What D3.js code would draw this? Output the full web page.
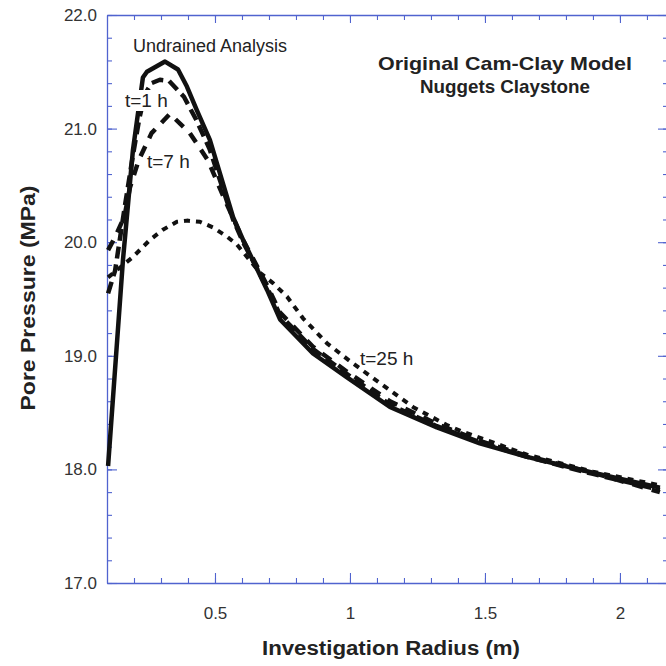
<!DOCTYPE html>
<html>
<head>
<meta charset="utf-8">
<script src="https://cdn.jsdelivr.net/npm/d3@7"></script>
<style>
body { margin: 0; background: #fff; }
svg { display: block; font-family: 'Liberation Sans', Arial, sans-serif; }
</style>
</head>
<body>
<svg id="svg1" width="666" height="666"></svg>
<script>
// values (radius in m, pore pressure in MPa)
var undrainedR = [0.104, 0.159, 0.196, 0.233, 0.248, 0.315, 0.363, 0.396, 0.433, 0.481, 0.567, 0.604, 0.693, 0.741, 0.863, 0.989, 1.148, 1.322, 1.481, 1.656, 1.9, 2.148];
var undrainedP = [18.03, 19.84, 20.81, 21.45, 21.50, 21.59, 21.52, 21.37, 21.16, 20.90, 20.22, 20.02, 19.58, 19.32, 19.02, 18.81, 18.55, 18.37, 18.23, 18.11, 17.97, 17.84];

var t1R = [0.104, 0.13, 0.165, 0.195, 0.219, 0.24, 0.265, 0.296, 0.33, 0.385, 0.43, 0.48, 0.567, 0.604, 0.693, 0.741, 0.863, 0.989, 1.148, 1.322, 1.481, 1.656, 1.9, 2.148];
var t1P = [19.55, 19.75, 20.3, 20.75, 21.08, 21.3, 21.4, 21.43, 21.42, 21.28, 21.08, 20.82, 20.2, 20.0, 19.6, 19.36, 19.06, 18.84, 18.57, 18.38, 18.24, 18.11, 17.96, 17.82];

var t7R = [0.104, 0.131, 0.165, 0.185, 0.217, 0.265, 0.333, 0.407, 0.474, 0.537, 0.604, 0.693, 0.741, 0.863, 0.989, 1.148, 1.322, 1.481, 1.656, 1.9, 2.148];
var t7P = [19.93, 20.05, 20.23, 20.48, 20.72, 20.96, 21.13, 20.96, 20.72, 20.37, 20.02, 19.62, 19.38, 19.08, 18.86, 18.6, 18.4, 18.25, 18.12, 17.97, 17.8];

var t25R = [0.104, 0.196, 0.259, 0.307, 0.359, 0.396, 0.444, 0.493, 0.544, 0.581, 0.619, 0.667, 0.715, 0.767, 0.826, 0.915, 1.007, 1.111, 1.233, 1.359, 1.419, 1.656, 1.9, 2.148];
var t25P = [19.69, 19.87, 20.02, 20.11, 20.18, 20.19, 20.18, 20.13, 20.05, 19.98, 19.87, 19.73, 19.64, 19.52, 19.33, 19.11, 18.94, 18.76, 18.55, 18.39, 18.33, 18.13, 17.98, 17.86];

var xMajor = [0.5, 1, 1.5, 2];
var xTickLabels = ['0.5', '1', '1.5', '2'];
var yMajor = [17, 18, 19, 20, 21, 22];
var yTickLabels = ['17.0', '18.0', '19.0', '20.0', '21.0', '22.0'];

var plotLeft = 107;
var plotRight = 668;
var plotTop = 15;
var plotBottom = 583;
var axisColor = '#5063cf';

var svg = d3.select('svg');

var x = d3.scaleLinear().domain([0.1, 2.178]).range([plotLeft, plotRight]);
var y = d3.scaleLinear().domain([17, 22]).range([plotBottom, plotTop]);

var xMinor = d3.range(2, 22).map(function (i) { return i / 10; });
var yMinor = d3.range(85, 111).map(function (i) { return i / 5; });

function styleAxis(g) {
    g.attr('color', axisColor);
    g.select('.domain').attr('stroke-width', 1.3);
    g.selectAll('.tick line').attr('stroke-width', 1.1);
    g.selectAll('.tick text')
        .attr('fill', '#333')
        .attr('font-size', 17);
}

// bottom axis
svg.append('g')
    .attr('transform', 'translate(0,' + plotBottom + ')')
    .call(d3.axisBottom(x).tickValues(xMajor)
        .tickFormat(function (d, i) { return xTickLabels[i]; })
        .tickSizeInner(-10).tickSizeOuter(0).tickPadding(24))
    .call(styleAxis);
svg.append('g')
    .attr('transform', 'translate(0,' + plotBottom + ')')
    .call(d3.axisBottom(x).tickValues(xMinor).tickFormat('').tickSizeInner(-5).tickSizeOuter(0))
    .call(styleAxis)
    .select('.domain').remove();

// top axis
svg.append('g')
    .attr('transform', 'translate(0,' + plotTop + ')')
    .call(d3.axisTop(x).tickValues(xMajor).tickFormat('').tickSizeInner(-8).tickSizeOuter(0))
    .call(styleAxis);
svg.append('g')
    .attr('transform', 'translate(0,' + plotTop + ')')
    .call(d3.axisTop(x).tickValues(xMinor).tickFormat('').tickSizeInner(-5).tickSizeOuter(0))
    .call(styleAxis)
    .select('.domain').remove();

// left axis
svg.append('g')
    .attr('transform', 'translate(' + plotLeft + ',0)')
    .call(d3.axisLeft(y).tickValues(yMajor)
        .tickFormat(function (d, i) { return yTickLabels[i]; })
        .tickSizeInner(-10).tickSizeOuter(0).tickPadding(10))
    .call(styleAxis);
svg.append('g')
    .attr('transform', 'translate(' + plotLeft + ',0)')
    .call(d3.axisLeft(y).tickValues(yMinor).tickFormat('').tickSizeInner(-5).tickSizeOuter(0))
    .call(styleAxis)
    .select('.domain').remove();

// right axis (mostly off the edge of the page)
svg.append('g')
    .attr('transform', 'translate(' + plotRight + ',0)')
    .call(d3.axisRight(y).tickValues(yMajor).tickFormat('').tickSizeInner(-10).tickSizeOuter(0))
    .call(styleAxis);
svg.append('g')
    .attr('transform', 'translate(' + plotRight + ',0)')
    .call(d3.axisRight(y).tickValues(yMinor).tickFormat('').tickSizeInner(-5).tickSizeOuter(0))
    .call(styleAxis)
    .select('.domain').remove();

//line generator
var line = d3.line()
    .x(function (d) { return x(d[0]); })
    .y(function (d) { return y(d[1]); });

function pairs(r, p) {
    return r.map(function (v, i) { return [v, p[i]]; });
}

var series = [
    {data: pairs(t25R, t25P), dash: '6,6', width: 4},
    {data: pairs(t7R, t7P), dash: '11,9', width: 4.5},
    {data: pairs(t1R, t1P), dash: '12,6', width: 4.5},
    {data: pairs(undrainedR, undrainedP), dash: null, width: 4.5}
];

svg.selectAll('path.curve')
    .data(series)
    .enter()
    .append('path')
    .attr('class', 'curve')
    .attr('d', function (d) { return line(d.data); })
    .attr('fill', 'none')
    .attr('stroke', '#111')
    .attr('stroke-width', function (d) { return d.width; })
    .attr('stroke-linejoin', 'round')
    .attr('stroke-dasharray', function (d) { return d.dash; });

// curve labels (t=1 h sits on a white patch over the lines)
svg.append('rect').attr('x', 124).attr('y', 90).attr('width', 50).attr('height', 21).attr('fill', '#fff');
svg.append('text').attr('x', 133).attr('y', 52).attr('font-size', 18).attr('fill', '#222').text('Undrained Analysis');
svg.append('text').attr('x', 125).attr('y', 107).attr('font-size', 19).attr('fill', '#222').text('t=1 h');
svg.append('text').attr('x', 147).attr('y', 168).attr('font-size', 19).attr('fill', '#222').text('t=7 h');
svg.append('text').attr('x', 360).attr('y', 365).attr('font-size', 19).attr('fill', '#222').text('t=25 h');

// model title
svg.append('text').attr('x', 505).attr('y', 70).attr('text-anchor', 'middle')
    .attr('font-size', 19).attr('font-weight', 'bold').attr('fill', '#222')
    .attr('textLength', 254).attr('lengthAdjust', 'spacingAndGlyphs')
    .text('Original Cam-Clay Model');
svg.append('text').attr('x', 505).attr('y', 93).attr('text-anchor', 'middle')
    .attr('font-size', 19).attr('font-weight', 'bold').attr('fill', '#222')
    .attr('textLength', 170).attr('lengthAdjust', 'spacingAndGlyphs')
    .text('Nuggets Claystone');

// axis titles
svg.append('text').attr('x', 391).attr('y', 655).attr('text-anchor', 'middle')
    .attr('font-size', 20).attr('font-weight', 'bold').attr('fill', '#222')
    .attr('textLength', 258).attr('lengthAdjust', 'spacingAndGlyphs')
    .text('Investigation Radius (m)');
svg.append('text')
    .attr('transform', 'translate(35,298) rotate(-90)')
    .attr('text-anchor', 'middle')
    .attr('font-size', 20).attr('font-weight', 'bold').attr('fill', '#222')
    .attr('textLength', 225).attr('lengthAdjust', 'spacingAndGlyphs')
    .text('Pore Pressure (MPa)');
</script>
</body>
</html>
